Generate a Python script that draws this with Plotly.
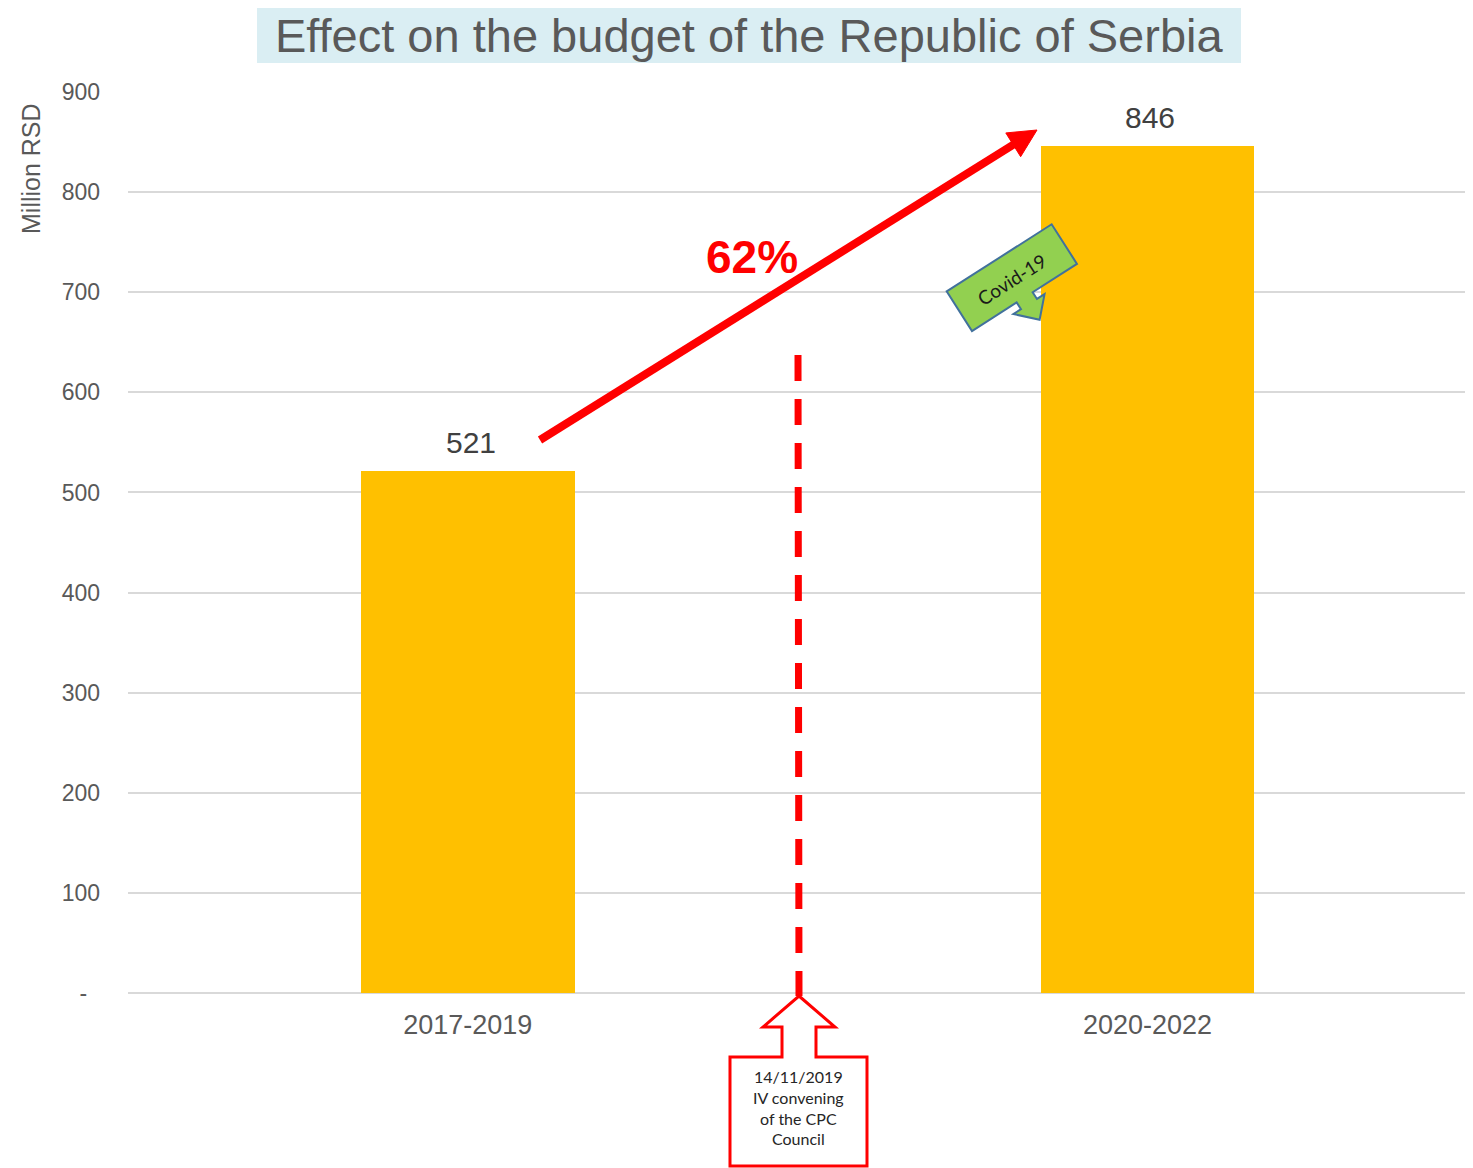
import math
import plotly.graph_objects as go

# ---- data ----
categories = ["2017-2019", "2020-2022"]
values = [521, 846]
value_labels = ["521", "846"]
ytick_vals = [0, 100, 200, 300, 400, 500, 600, 700, 800, 900]
ytick_text = ["-\u00a0\u00a0", "100", "200", "300", "400", "500", "600", "700", "800", "900"]
growth_label = "62%"
event_label = "14/11/2019<br>IV convening<br>of the CPC<br>Council"
covid_label = "Covid-19"
title_text = "Effect on the budget of the Republic of Serbia"

OFF = 8  # page body margin
W, H = 1473 - OFF, 1168 - OFF
ML, MR, MT, MB = 128 - OFF, 0, 92 - OFF, 175
PW, PH = W - ML - MR, H - MT - MB


def px(x):
    # x given in reference-window pixels
    return (x - OFF - ML) / PW


def py(y):
    return (H - MB - (y - OFF)) / PH


def path(points):
    return "M " + " L ".join(f"{px(x):.5f},{py(y):.5f}" for x, y in points) + " Z"


FONT = "Liberation Sans, Arial, sans-serif"
GREY = "#595959"

fig = go.Figure()
fig.add_trace(go.Bar(
    x=categories, y=values, width=0.314,
    marker=dict(color="#FFC000", line=dict(width=0)),
    hoverinfo="skip",
))

shapes = []
annotations = []

# title band
shapes.append(dict(type="rect", xref="paper", yref="paper",
                   x0=px(257), x1=px(1241), y0=py(8), y1=py(63),
                   fillcolor="#DAEEF3", line=dict(width=0), layer="below"))
annotations.append(dict(xref="paper", yref="paper", x=px(749), y=py(36),
                        text=title_text, showarrow=False,
                        font=dict(family=FONT, size=47, color=GREY),
                        xanchor="center", yanchor="middle"))

# y-axis title
annotations.append(dict(xref="paper", yref="paper", x=px(31), y=py(169),
                        text="Million RSD", showarrow=False, textangle=-90,
                        font=dict(family=FONT, size=25, color=GREY),
                        xanchor="center", yanchor="middle"))

# value labels
for c, v, t in zip(categories, values, value_labels):
    annotations.append(dict(x=c, y=v, text=t, showarrow=False,
                            xanchor="center", yanchor="bottom", yshift=10, xshift=3,
                            font=dict(family=FONT, size=30, color="#404040")))

# red growth arrow
tail = (540, 440)
tip = (1037, 130)
dx, dy = tip[0] - tail[0], tip[1] - tail[1]
L = math.hypot(dx, dy)
ux, uy = dx / L, dy / L
nx, ny = -uy, ux
head_len, head_half = 28, 14
bx, by = tip[0] - ux * head_len, tip[1] - uy * head_len
shapes.append(dict(type="line", xref="paper", yref="paper",
                   x0=px(tail[0]), y0=py(tail[1]),
                   x1=px(bx + ux * 3), y1=py(by + uy * 3),
                   line=dict(color="#FF0000", width=8)))
shapes.append(dict(type="path", xref="paper", yref="paper",
                   path=path([tip, (bx + nx * head_half, by + ny * head_half),
                              (bx - nx * head_half, by - ny * head_half)]),
                   fillcolor="#FF0000", line=dict(color="#FF0000", width=1)))
annotations.append(dict(xref="paper", yref="paper", x=px(752), y=py(257),
                        text="<b>" + growth_label + "</b>", showarrow=False,
                        font=dict(family=FONT, size=46, color="#FF0000"),
                        xanchor="center", yanchor="middle"))

# dashed vertical event line
shapes.append(dict(type="line", xref="paper", yref="paper",
                   x0=px(798), x1=px(799), y0=py(355), y1=py(996),
                   line=dict(color="#FF0000", width=7, dash="26px,18px")))

# bottom up-arrow callout
shapes.append(dict(type="path", xref="paper", yref="paper",
                   path=path([(799, 996), (835, 1027), (816, 1027), (816, 1057),
                              (867, 1057), (867, 1166), (730, 1166), (730, 1057),
                              (782, 1057), (782, 1027), (763, 1027)]),
                   fillcolor="white", line=dict(color="#FF0000", width=3)))
annotations.append(dict(xref="paper", yref="paper", x=px(798), y=py(1107),
                        text=event_label, showarrow=False,
                        font=dict(family="Lato, Open Sans, sans-serif", size=16, color="#262626"),
                        xanchor="center", yanchor="middle"))

# Covid-19 callout (rotated)
ang = math.radians(32.6)
D = (972, 331)
eu = (math.cos(ang), -math.sin(ang))
ev = (math.sin(ang), math.cos(ang))


def loc(u, v):
    return (D[0] + u * eu[0] + v * ev[0], D[1] + u * eu[1] + v * ev[1])


local_pts = [(0, -47), (124.6, -47), (124.6, 0), (72, 0), (72, 8), (81, 8),
             (63, 27), (44, 8), (53, 8), (53, 0), (0, 0)]
shapes.append(dict(type="path", xref="paper", yref="paper",
                   path=path([loc(u, v) for u, v in local_pts]),
                   fillcolor="#92D050", line=dict(color="#41719C", width=2)))
cx, cy = loc(61, -22.5)
annotations.append(dict(xref="paper", yref="paper", x=px(cx), y=py(cy),
                        text=covid_label, showarrow=False, textangle=-32.6,
                        font=dict(family="Lato, Open Sans, sans-serif", size=19, color="#1a1a1a"),
                        xanchor="center", yanchor="middle"))

fig.update_layout(
    width=W, height=H,
    margin=dict(l=ML, r=MR, t=MT, b=MB),
    paper_bgcolor="white", plot_bgcolor="white",
    showlegend=False,
    shapes=shapes, annotations=annotations,
    bargap=0,
    xaxis=dict(type="category", range=[-0.5, 1.479], showgrid=False,
               showline=False, zeroline=False, ticks="",
               tickfont=dict(family=FONT, size=27, color=GREY),
               ticklabelstandoff=13),
    yaxis=dict(range=[0, 900], tickvals=ytick_vals, ticktext=ytick_text,
               showgrid=True, gridcolor="#D9D9D9", gridwidth=1.5,
               zeroline=True, zerolinecolor="#D9D9D9", zerolinewidth=1.5,
               showline=False, ticks="",
               tickfont=dict(family=FONT, size=23, color=GREY),
               ticklabelstandoff=27),
)

fig.write_html("out.html")
